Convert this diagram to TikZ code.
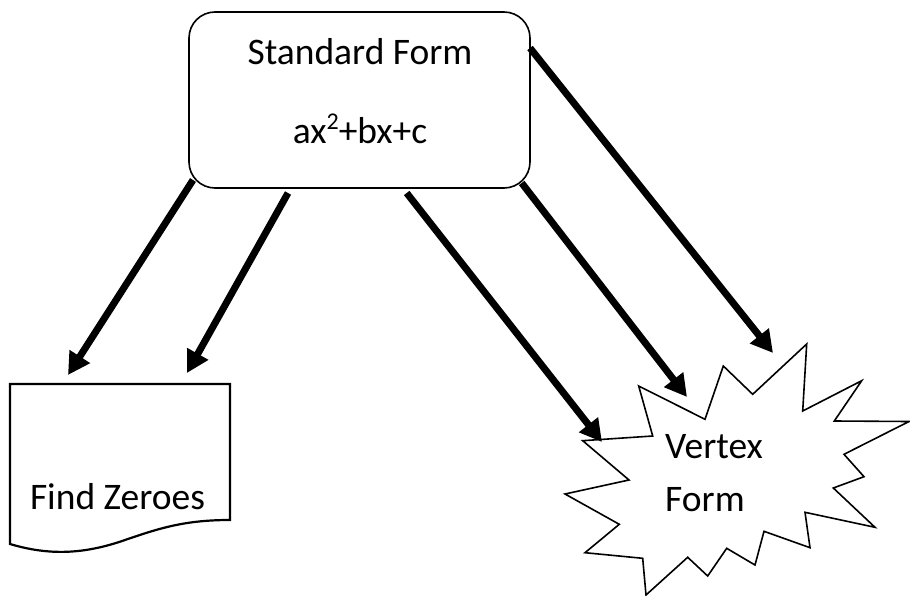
\documentclass[tikz,border=0pt]{standalone}
\usepackage{fontspec}
\setmainfont{Carlito}
\usetikzlibrary{arrows.meta}
\tikzset{
  bigtext/.style={font=\fontsize{37.5}{42}\selectfont, inner sep=0pt, anchor=base},
  flowarrow/.style={line width=7pt, -{Triangle[length=22pt,width=23pt]}},
  outline/.style={draw=black, line width=1.6pt, line join=miter},
}
\newcommand{\supsq}{\raisebox{14pt}{\fontsize{24}{24}\selectfont 2}}
\begin{document}
\begin{tikzpicture}[x=1pt, y=-1pt]
\useasboundingbox (0,0) rectangle (910,596);

% rounded box with the standard form
\node[outline, rounded corners=26pt, minimum width=341pt, minimum height=176pt, inner sep=0pt]
  (std) at (359.5,100) {};
\node[bigtext] (stdtitle) at (360,65) {Standard Form};
\node[bigtext] (stdeq) at (360,144) {ax\supsq+bx+c};

% document shape
\draw[outline, line width=2.2pt] (10,544) -- (10,384) -- (230,384) -- (230,520)
  .. controls (185,520) and (160,528) .. (125,540)
  .. controls (85,554) and (50,556) .. cycle;
\coordinate (doc) at (120,460);
\node[bigtext] (zeroes) at (117.5,509) {Find Zeroes};

% starburst
\draw[outline] (806.7,344) -- (802.7,411) -- (861.7,380.7) -- (834.3,421)
  -- (909,421.5) -- (844,454.3) -- (864,476.7) -- (833.3,488)
  -- (875,527.3) -- (805,512.3) -- (810,547.7) -- (764,531.3)
  -- (755,565) -- (726.7,548.3) -- (707.7,576) -- (687.7,557.3)
  -- (646,595) -- (642.7,558.3) -- (585,552.7) -- (619.3,524.3)
  -- (565,494) -- (629,480) -- (582.7,440.7) -- (652.7,436)
  -- (638.7,386) -- (705,419.3) -- (723.3,366) -- (752.7,394.3) -- cycle;
\node[bigtext, anchor=base west] (vtx1) at (665,458) {Vertex};
\node[bigtext, anchor=base west] (vtx2) at (665,511.7) {Form};

% connector end points
\coordinate (s1) at (193,180);
\coordinate (s2) at (288,193);
\coordinate (s3) at (406.7,193);
\coordinate (s4) at (521.7,183);
\coordinate (s5) at (530,48);
\coordinate (t1) at (68,375);
\coordinate (t2) at (187,373);
\coordinate (t3) at (602,442);
\coordinate (t4) at (687,397);
\coordinate (t5) at (773,353);

\draw[flowarrow] (s1) -- (t1);
\draw[flowarrow] (s2) -- (t2);
\draw[flowarrow] (s3) -- (t3);
\draw[flowarrow] (s4) -- (t4);
\draw[flowarrow] (s5) -- (t5);
\end{tikzpicture}
\end{document}
